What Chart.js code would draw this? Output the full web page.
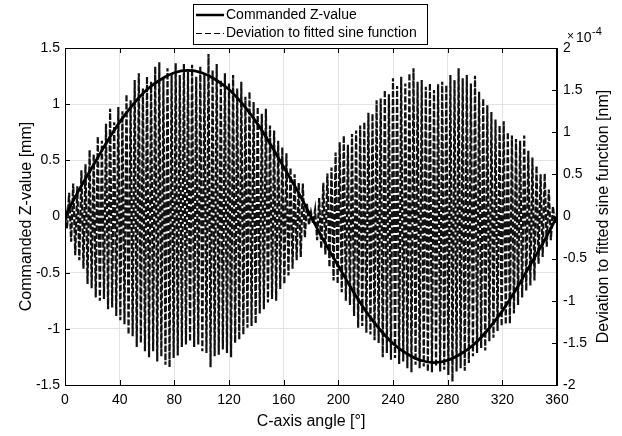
<!DOCTYPE html>
<html>
<head>
<meta charset="utf-8">
<script src="https://cdn.jsdelivr.net/npm/chart.js@4.4.0/dist/chart.umd.min.js"></script>
<style>
html,body{margin:0;padding:0;background:#fff;}
</style>
</head>
<body>
<canvas id="c" width="622" height="436"></canvas>
<script>
// commanded Z-value [mm], read every 10 deg
var zAngles = [0,10,20,30,40,50,60,70,80,90,100,110,120,130,140,150,160,170,180,
	190,200,210,220,230,240,250,260,270,280,290,300,310,320,330,340,350,360];
var zValues = [0,0.23,0.44,0.65,0.84,1.0,1.13,1.22,1.28,1.3,1.28,1.22,1.13,1.0,0.84,0.65,0.44,0.23,0,
	-0.23,-0.44,-0.65,-0.84,-1.0,-1.13,-1.22,-1.28,-1.3,-1.28,-1.22,-1.13,-1.0,-0.84,-0.65,-0.44,-0.23,0];

// deviation [x1e-4 nm], peaks every 3 deg from 0, troughs every 3 deg from 1.5
var devStep = 3;
var devPeaks = [0.12,0.28,0.39,0.36,0.55,0.62,0.79,0.74,0.95,0.90,1.10,1.28,1.12,1.30,1.25,1.45,1.38,1.62,1.70,1.52,
	1.66,1.60,1.78,1.83,1.64,1.76,1.70,1.82,1.68,1.81,1.72,1.80,1.66,1.78,1.70,1.93,1.74,1.81,1.62,1.70,
	1.58,1.68,1.52,1.60,1.42,1.48,1.36,1.30,1.22,1.28,1.08,1.02,0.90,0.82,0.75,0.58,0.50,0.40,0.39,0.15,
	0.05,0.08,0.22,0.40,0.51,0.58,0.76,0.88,0.96,0.85,0.98,1.02,1.08,1.12,1.23,1.22,1.38,1.40,1.50,1.45,
	1.64,1.55,1.66,1.58,1.70,1.76,1.60,1.62,1.54,1.58,1.50,1.57,1.60,1.56,1.68,1.62,1.76,1.64,1.68,1.58,
	1.67,1.48,1.40,1.32,1.24,1.15,1.08,1.13,1.00,0.96,0.92,0.90,0.96,0.78,0.70,0.60,0.50,0.51,0.32,0.12,0.04];
var devTroughs = [-0.14,-0.30,-0.46,-0.52,-0.62,-0.80,-0.85,-0.96,-1.00,-0.98,-1.10,-1.08,-1.18,-1.23,-1.28,-1.40,-1.42,-1.55,-1.50,-1.60,
	-1.67,-1.60,-1.72,-1.66,-1.76,-1.79,-1.68,-1.65,-1.55,-1.52,-1.48,-1.55,-1.52,-1.60,-1.62,-1.79,-1.66,-1.64,-1.58,-1.62,
	-1.67,-1.50,-1.46,-1.40,-1.32,-1.30,-1.27,-1.15,-1.10,-1.02,-0.98,-1.00,-0.86,-0.80,-0.70,-0.62,-0.52,-0.48,-0.25,-0.10,
	-0.08,-0.28,-0.38,-0.45,-0.60,-0.76,-0.80,-0.90,-1.00,-1.05,-1.18,-1.32,-1.30,-1.38,-1.40,-1.47,-1.50,-1.67,-1.62,-1.70,
	-1.68,-1.75,-1.72,-1.80,-1.85,-1.76,-1.80,-1.78,-1.84,-1.85,-1.78,-1.84,-1.82,-1.88,-1.96,-1.84,-1.80,-1.83,-1.74,-1.66,
	-1.62,-1.56,-1.59,-1.48,-1.44,-1.36,-1.30,-1.28,-1.27,-1.15,-1.05,-0.96,-0.88,-0.82,-0.76,-0.56,-0.48,-0.36,-0.28,-0.08];

var legendLabels = ['Commanded Z-value', 'Deviation to fitted sine function'];
var fontFamily = '"Liberation Sans", Arial, Helvetica, sans-serif';

var zData = zAngles.map(function(a, i){ return { x: a, y: zValues[i] }; });
var devData = [];
for (var i = 0; i < devPeaks.length; i++) {
	devData.push({ x: i * devStep, y: devPeaks[i] });
	if (i < devTroughs.length) devData.push({ x: i * devStep + devStep / 2, y: devTroughs[i] });
}

var framePlugin = {
	id: 'frame',
	afterDraw: function(chart){
		var ctx = chart.ctx, a = chart.chartArea,
			sx = chart.scales.x, sy = chart.scales.y, sy1 = chart.scales.y1;
		ctx.save();
		ctx.strokeStyle = '#000';
		ctx.lineWidth = 1;
		ctx.strokeRect(a.left + 0.5, a.top + 0.5, a.right - a.left - 1, a.bottom - a.top);
		ctx.beginPath();
		sx.ticks.forEach(function(t){
			var px = Math.round(sx.getPixelForValue(t.value)) + 0.5;
			ctx.moveTo(px, a.bottom); ctx.lineTo(px, a.bottom - 5);
			ctx.moveTo(px, a.top); ctx.lineTo(px, a.top + 5);
		});
		sy.ticks.forEach(function(t){
			var py = Math.round(sy.getPixelForValue(t.value)) + 0.5;
			ctx.moveTo(a.left, py); ctx.lineTo(a.left + 5, py);
		});
		sy1.ticks.forEach(function(t){
			var py = Math.round(sy1.getPixelForValue(t.value)) + 0.5;
			ctx.moveTo(a.right, py); ctx.lineTo(a.right - 5, py);
		});
		ctx.stroke();

		// right axis title, reading upwards
		ctx.fillStyle = '#000';
		ctx.font = '16px ' + fontFamily;
		ctx.textAlign = 'center';
		ctx.textBaseline = 'middle';
		ctx.translate(604, (a.top + a.bottom) / 2);
		ctx.rotate(-Math.PI / 2);
		ctx.fillText('Deviation to fitted sine function [nm]', 0, 0);
		ctx.restore();

		// exponent
		ctx.save();
		ctx.fillStyle = '#000';
		ctx.textAlign = 'left';
		ctx.textBaseline = 'alphabetic';
		ctx.font = '12px ' + fontFamily;
		ctx.fillText('\u00d7', 567, 40);
		ctx.font = '14px ' + fontFamily;
		ctx.fillText('10', 576, 42);
		ctx.font = '11px ' + fontFamily;
		ctx.fillText('-4', 592, 35);
		ctx.restore();

		// legend box
		ctx.save();
		ctx.fillStyle = '#fff';
		ctx.fillRect(193, 4, 234, 40);
		ctx.strokeStyle = '#000';
		ctx.lineWidth = 1;
		ctx.strokeRect(193.5, 4.5, 234, 40);
		ctx.beginPath();
		ctx.lineWidth = 2.5;
		ctx.moveTo(196, 15); ctx.lineTo(224, 15);
		ctx.stroke();
		ctx.beginPath();
		ctx.lineWidth = 1;
		ctx.setLineDash([6, 3]);
		ctx.moveTo(196, 33.5); ctx.lineTo(224, 33.5);
		ctx.stroke();
		ctx.setLineDash([]);
		ctx.fillStyle = '#000';
		ctx.font = '14px ' + fontFamily;
		ctx.textAlign = 'left';
		ctx.textBaseline = 'middle';
		ctx.fillText(legendLabels[0], 226, 15);
		ctx.fillText(legendLabels[1], 226, 33);
		ctx.restore();
	}
};

new Chart(document.getElementById('c').getContext('2d'), {
	type: 'line',
	data: {
		datasets: [
			{ label: legendLabels[0], data: zData, yAxisID: 'y', borderColor: '#000', borderWidth: 2.8,
				pointRadius: 0, tension: 0.4, fill: false },
			{ label: legendLabels[1], data: devData, yAxisID: 'y1', borderColor: '#111', borderWidth: 2.2,
				borderDash: [6, 2], pointRadius: 0, tension: 0, fill: false }
		]
	},
	options: {
		responsive: false,
		animation: false,
		layout: { padding: { top: 48, left: 0, right: 0, bottom: 0 } },
		plugins: { legend: { display: false }, tooltip: { enabled: false } },
		scales: {
			x: {
				type: 'linear', min: 0, max: 360,
				afterFit: function(s){ s.height = 51; },
				ticks: { stepSize: 40, padding: 7, color: '#000', font: { size: 14, family: fontFamily } },
				grid: { color: '#e3e3e3', drawTicks: false },
				border: { color: '#000' },
				title: { display: true, text: 'C-axis angle [\u00b0]', color: '#000', padding: { top: 0, bottom: 5 },
					font: { size: 16, family: fontFamily } }
			},
			y: {
				position: 'left', min: -1.5, max: 1.5,
				afterFit: function(s){ s.width = 65; },
				ticks: { stepSize: 0.5, padding: 5, color: '#000', font: { size: 14, family: fontFamily },
					callback: function(v){ return String(v); } },
				grid: { color: '#e3e3e3', drawTicks: false },
				border: { color: '#000' },
				title: { display: true, text: 'Commanded Z-value [mm]', color: '#000', padding: { top: 17, bottom: 0 },
					font: { size: 16, family: fontFamily } }
			},
			y1: {
				position: 'right', min: -2, max: 2,
				afterFit: function(s){ s.width = 65; },
				ticks: { stepSize: 0.5, padding: 6, color: '#000', font: { size: 14, family: fontFamily },
					callback: function(v){ return String(v); } },
				grid: { drawOnChartArea: false, drawTicks: false },
				border: { color: '#000' }
			}
		}
	},
	plugins: [framePlugin]
});
</script>
</body>
</html>
